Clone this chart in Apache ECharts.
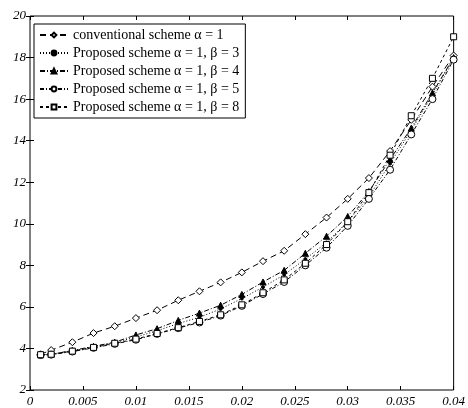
<!DOCTYPE html>
<html>
<head>
<meta charset="utf-8">
<script src="https://cdn.jsdelivr.net/npm/echarts@6/dist/echarts.min.js"></script>
<style>
  html, body { margin: 0; padding: 0; background: #fff; }
  #main { width: 468px; height: 408px; }
</style>
</head>
<body>
<div id="main"></div>
<script>
// x positions of the samples
var xs = [0.001, 0.002, 0.004, 0.006, 0.008, 0.01, 0.012, 0.014, 0.016, 0.018, 0.02,
          0.022, 0.024, 0.026, 0.028, 0.03, 0.032, 0.034, 0.036, 0.038, 0.04];

// values
var conv  = [3.72, 3.92, 4.3, 4.74, 5.07, 5.46, 5.84, 6.32, 6.75, 7.18, 7.66, 8.2, 8.7, 9.5, 10.3, 11.2, 12.2, 13.5, 15.0, 16.6, 18.1];
var beta3 = [3.7, 3.72, 3.88, 4.08, 4.28, 4.55, 4.85, 5.2, 5.5, 5.9, 6.4, 6.95, 7.55, 8.3, 9.1, 10.1, 11.3, 12.9, 14.5, 16.2, 18.0];
var beta4 = [3.7, 3.72, 3.9, 4.1, 4.3, 4.65, 4.95, 5.35, 5.7, 6.08, 6.6, 7.2, 7.76, 8.58, 9.4, 10.35, 11.55, 13.1, 14.6, 16.3, 18.0];
var beta5 = [3.68, 3.7, 3.85, 4.03, 4.22, 4.42, 4.7, 4.98, 5.25, 5.58, 6.05, 6.62, 7.2, 8.0, 8.85, 9.9, 11.2, 12.6, 14.3, 16.0, 17.9];
var beta8 = [3.7, 3.72, 3.87, 4.05, 4.25, 4.45, 4.72, 5.0, 5.3, 5.62, 6.1, 6.68, 7.3, 8.1, 9.0, 10.1, 11.5, 13.3, 15.2, 17.0, 19.0];

var names = [
    'conventional scheme \u03b1 = 1',
    'Proposed scheme \u03b1 = 1, \u03b2 = 3',
    'Proposed scheme \u03b1 = 1, \u03b2 = 4',
    'Proposed scheme \u03b1 = 1, \u03b2 = 5',
    'Proposed scheme \u03b1 = 1, \u03b2 = 8'
];

function pairs(ys) {
    return xs.map(function (x, i) { return [x, ys[i]]; });
}

var font = '"Liberation Serif", "DejaVu Serif", serif';

function mk(name, ys, symbol, size, fill, dash) {
    return {
        name: name,
        type: 'line',
        data: pairs(ys),
        symbol: symbol,
        symbolSize: size,
        showAllSymbol: true,
        lineStyle: { color: '#000', width: 1, type: dash },
        itemStyle: { color: fill, borderColor: '#000', borderWidth: 1 },
        emphasis: { disabled: true },
        animation: false
    };
}

var chart = echarts.init(document.getElementById('main'));
var option = {
    backgroundColor: '#fff',
    grid: { left: 30, right: 11, top: 16, bottom: 17, show: true, borderColor: '#000', borderWidth: 1 },
    legend: {
        orient: 'vertical',
        left: 34, top: 24,
        padding: [3, 6, 3, 5],
        itemWidth: 28, itemHeight: 6, itemGap: 2,
        borderColor: '#000', borderWidth: 1,
        backgroundColor: '#fff',
        textStyle: { fontFamily: font, fontSize: 14, color: '#000', lineHeight: 16 },
        data: names
    },
    xAxis: [{
        type: 'value', min: 0, max: 0.04, interval: 0.005,
        axisLine: { show: false },
        axisTick: { inside: true, length: 4, lineStyle: { color: '#000' } },
        splitLine: { show: false },
        axisLabel: {
            color: '#000', fontFamily: font, fontSize: 13, fontStyle: 'italic', margin: 5,
            formatter: function (v) { return v === 0 ? '0' : String(+v.toFixed(3)); }
        }
    }, {
        type: 'value', position: 'top', min: 0, max: 0.04, interval: 0.005,
        axisLine: { show: false },
        axisTick: { inside: true, length: 4, lineStyle: { color: '#000' } },
        splitLine: { show: false }, axisLabel: { show: false }
    }],
    yAxis: [{
        type: 'value', min: 2, max: 20, interval: 2,
        axisLine: { show: false },
        axisTick: { inside: true, length: 4, lineStyle: { color: '#000' } },
        splitLine: { show: false },
        axisLabel: { color: '#000', fontFamily: font, fontSize: 13, fontStyle: 'italic', margin: 4 }
    }, {
        type: 'value', position: 'right', min: 2, max: 20, interval: 2,
        axisLine: { show: false },
        axisTick: { inside: true, length: 4, lineStyle: { color: '#000' } },
        splitLine: { show: false }, axisLabel: { show: false }
    }],
    series: [
        mk(names[0], conv, 'diamond', 7, '#fff', [6, 4]),
        mk(names[1], beta3, 'circle', 3, '#000', [1, 2]),
        mk(names[2], beta4, 'triangle', 6, '#000', [5, 2, 1, 2]),
        mk(names[3], beta5, 'circle', 7, '#fff', [4, 2, 1, 2]),
        mk(names[4], beta8, 'rect', 6, '#fff', [3, 3])
    ]
};
chart.setOption(option);
</script>
</body>
</html>
